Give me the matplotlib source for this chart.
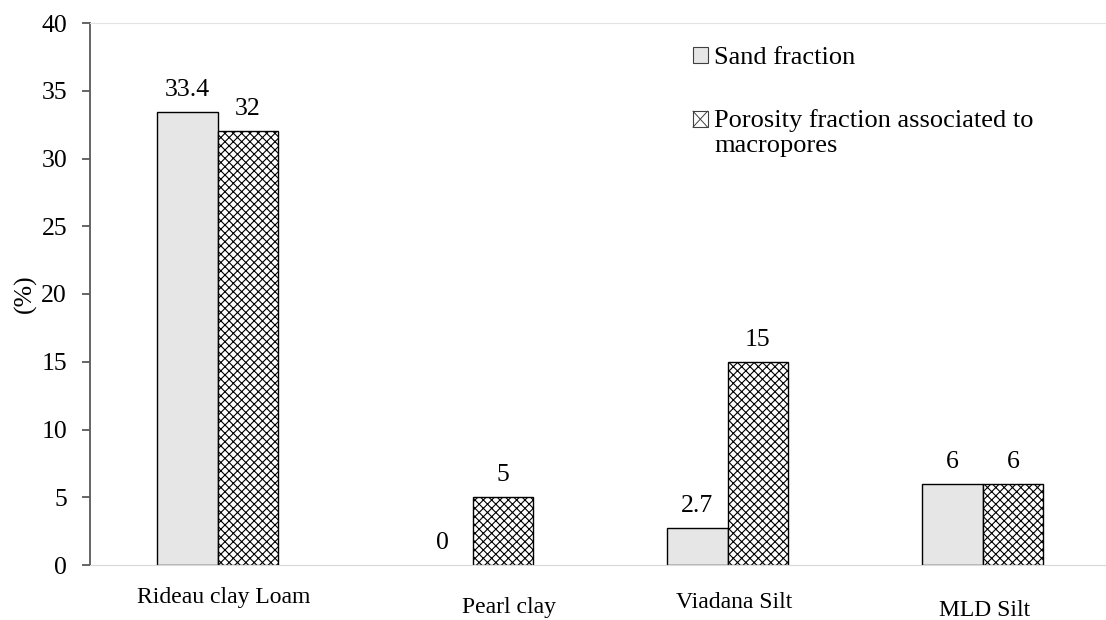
import matplotlib
matplotlib.use("Agg")
import matplotlib.pyplot as plt
import numpy as np
from matplotlib.patches import Rectangle
from matplotlib.lines import Line2D
from matplotlib.legend_handler import HandlerBase
from matplotlib.transforms import ScaledTranslation

categories = ["Rideau clay Loam", "Pearl clay", "Viadana Silt", "MLD Silt"]
sand_fraction = [33.4, 0, 2.7, 6]
macro_porosity = [32, 5, 15, 6]
series_names = ["Sand fraction", "Porosity fraction associated to\nmacropores"]
yticks = [0, 5, 10, 15, 20, 25, 30, 35, 40]

# per-label offsets (pixels) mimicking manually placed category text boxes
label_dx_px = [6, 37, 7, 2]
label_dy_px = [0, 10, 5, 13]

plt.rcParams["font.family"] = ["Liberation Serif", "DejaVu Serif"]
plt.rcParams["hatch.linewidth"] = 0.8
plt.rcParams["hatch.color"] = "#383838"

W, H = 1106, 620
fig = plt.figure(figsize=(W / 100, H / 100), dpi=100)
ax = fig.add_axes([90 / W, 55 / H, 1016 / W, 542 / H])

x = np.arange(len(categories))
bw = 0.239
ax.bar(x - bw / 2, sand_fraction, bw, color="#E6E6E6", edgecolor="black",
       linewidth=[1.0 if v else 0 for v in sand_fraction], label=series_names[0])
ax.bar(x + bw / 2, macro_porosity, bw, color="white", edgecolor="black",
       linewidth=[1.0 if v else 0 for v in macro_porosity], hatch="xxxx",
       label=series_names[1])

for c in ax.containers:
    ax.bar_label(c, fmt="%g", padding=8, fontsize=18.5)

ax.set_xlim(-0.5, -0.5 + 1016 / 255)
ax.set_ylim(0, 40)
ax.set_yticks(yticks)
ax.tick_params(axis="y", direction="out", length=6, width=1.3, color="#595959",
               pad=10.5, labelsize=18.5)
ax.set_xticks(x, categories)
ax.tick_params(axis="x", length=0, labelsize=17, pad=16)
for lab, dx, dy in zip(ax.get_xticklabels(), label_dx_px, label_dy_px):
    lab.set_transform(lab.get_transform() + ScaledTranslation(dx / 100, -dy / 100, fig.dpi_scale_trans))

ax.spines["left"].set_color("#595959")
ax.spines["left"].set_linewidth(1.3)
ax.spines["bottom"].set_color("#D9D9D9")
ax.spines["top"].set_color("#E3E3E3")
ax.spines["right"].set_visible(False)

ax.set_ylabel("(%)", fontsize=18.5)
ax.yaxis.set_label_coords(-0.052, 0.5)


class SquareHandler(HandlerBase):
    def __init__(self, facecolor, cross=False, dy=0.0):
        super().__init__()
        self.fc = facecolor
        self.cross = cross
        self.dy = dy

    def create_artists(self, legend, orig_handle, xdescent, ydescent, width, height,
                       fontsize, trans):
        x0, y0 = -xdescent, -ydescent + self.dy
        arts = [Rectangle((x0, y0), width, height, facecolor=self.fc,
                          edgecolor="#404040", linewidth=0.8, transform=trans)]
        if self.cross:
            arts.append(Line2D([x0, x0 + width], [y0, y0 + height], color="#404040",
                               linewidth=0.7, transform=trans))
            arts.append(Line2D([x0, x0 + width], [y0 + height, y0], color="#404040",
                               linewidth=0.7, transform=trans))
        return arts


h1 = Rectangle((0, 0), 1, 1)
h2 = Rectangle((0, 0), 1, 1)
leg = ax.legend([h1, h2], series_names, loc="upper left",
                bbox_to_anchor=(693 / W, 1 - 47 / H), bbox_transform=fig.transFigure,
                frameon=False, fontsize=19, handlelength=0.55, handleheight=0.55,
                handletextpad=0.25, labelspacing=1.5, borderpad=0, borderaxespad=0,
                handler_map={h1: SquareHandler("#E6E6E6"),
                             h2: SquareHandler("white", cross=True, dy=9.4)})

fig.savefig("out.png", dpi=100)
